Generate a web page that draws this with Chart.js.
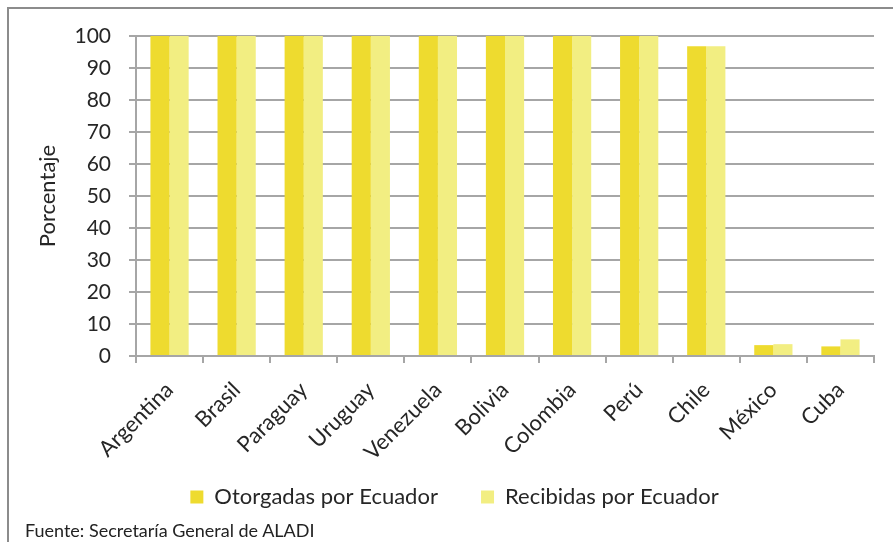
<!DOCTYPE html>
<html>
<head>
<meta charset="utf-8">
<script src="https://cdn.jsdelivr.net/npm/chart.js@4/dist/chart.umd.min.js"></script>
<style>
  html, body { margin:0; padding:0; background:#fff; }
  #wrap { position:relative; width:893px; height:542px; overflow:hidden; }
  #frame { position:absolute; left:7px; top:7px; width:900px; height:600px;
           border:2px solid #8c8c8c; box-sizing:border-box; }
  #src { position:absolute; left:25px; top:519px; font:18px Lato, "Open Sans", sans-serif; color:#222; }
  canvas { position:absolute; left:0; top:0; }
</style>
</head>
<body>
<div id="wrap">
  <div id="frame"></div>
  <canvas id="c" width="893" height="542"></canvas>
  <div id="src">Fuente: Secretaría General de ALADI</div>
</div>
<script>
"use strict";
// Preferencias otorgadas / recibidas por Ecuador (% del universo arancelario)
const COUNTRIES = ['Argentina','Brasil','Paraguay','Uruguay','Venezuela','Bolivia',
                   'Colombia','Perú','Chile','México','Cuba'];
const OTORGADAS = [100, 100, 100, 100, 100, 100, 100, 100, 96.8, 3.4, 3.0];
const RECIBIDAS = [100, 100, 100, 100, 100, 100, 100, 100, 96.8, 3.7, 5.2];
const Y_TICKS = [0,10,20,30,40,50,60,70,80,90,100];

const C = {dark:'#eedb2f', light:'#f2ee82', grid:'#a6a6a6', ink:'#262626'};
const FONT = 'Lato, "Open Sans", sans-serif';
Chart.defaults.font.family = FONT;
Chart.defaults.color = C.ink;

// legend padding also sets its height, so widen the gap between items with spaces
const legendLabels = chart => Chart.defaults.plugins.legend.labels.generateLabels(chart)
  .map((l, i) => i === 0 ? {...l, text: l.text + '\u2003 '} : l);

new Chart(document.getElementById('c'), {
  type: 'bar',
  data: {
    labels: COUNTRIES,
    datasets: [
      {label:'Otorgadas por Ecuador', data:OTORGADAS, backgroundColor:C.dark},
      {label:'Recibidas por Ecuador', data:RECIBIDAS, backgroundColor:C.light},
    ]
  },
  options: {
    responsive:false, animation:false,
    layout:{padding:{left:35, right:19, top:36, bottom:24}},
    categoryPercentage:0.57, barPercentage:1,
    plugins:{
      legend:{position:'bottom', labels:{boxWidth:13, boxHeight:13, padding:21,
        font:{size:22}, color:C.ink, generateLabels:legendLabels}},
      tooltip:{enabled:false}
    },
    scales:{
      x:{
        grid:{drawOnChartArea:false, color:C.grid, tickLength:7, lineWidth:2},
        border:{color:C.grid, width:2},
        ticks:{maxRotation:45, minRotation:45, font:{size:22}, color:C.ink, padding:14},
        afterFit: s => { s.height = 109; }
      },
      y:{
        min:0, max:100,
        afterBuildTicks: s => { s.ticks = Y_TICKS.map(v => ({value:v})); },
        grid:{color:C.grid, tickLength:7, lineWidth:2},
        border:{color:C.grid, width:2},
        ticks:{font:{size:21}, color:C.ink, padding:18},
        title:{display:true, text:'Porcentaje', font:{size:22}, color:C.ink, padding:{top:0,bottom:10}},
        afterFit: s => { s.width = 101; }
      }
    }
  }
});
</script>
</body>
</html>
